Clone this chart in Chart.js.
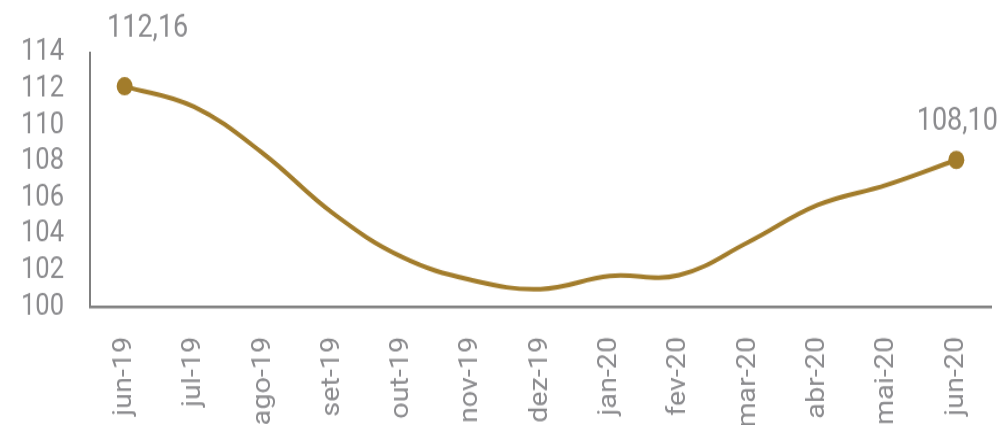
<!DOCTYPE html>
<html>
<head>
<meta charset="utf-8">
<script src="https://cdn.jsdelivr.net/npm/chart.js@4"></script>
<style>
html,body{margin:0;padding:0;background:#fff;overflow:hidden;}
#c{display:block;width:1001px;height:425px;}
</style>
</head>
<body>
<canvas id="c" width="1001" height="370" style="width:1001px;height:425px"></canvas>
<script>
const categories = ["jun-19","jul-19","ago-19","set-19","out-19","nov-19","dez-19","jan-20","fev-20","mar-20","abr-20","mai-20","jun-20"];
const values = [112.16, 111.03, 108.45, 105.18, 102.76, 101.49, 100.99, 101.71, 101.76, 103.58, 105.62, 106.73, 108.10];
const yTicks = [100, 102, 104, 106, 108, 110, 112, 114];
const labelledIdx = [0, 12];
const labelShift = [[23, 43], [1, 26]];

const gold = '#a27c2b';
const grey = '#8b8b8e';

const endLabels = {
  id: 'endLabels',
  afterDatasetsDraw(chart) {
    const ctx = chart.ctx;
    const meta = chart.getDatasetMeta(0);
    ctx.save();
    ctx.font = '27px Roboto';
    ctx.fillStyle = grey;
    ctx.textAlign = 'center';
    ctx.textBaseline = 'alphabetic';
    labelledIdx.forEach((i, k) => {
      const p = meta.data[i];
      const txt = values[i].toFixed(2).replace('.', ',');
      ctx.fillText(txt, p.x + labelShift[k][0], p.y - labelShift[k][1]);
    });
    ctx.restore();
  }
};

new Chart(document.getElementById('c'), {
  type: 'line',
  data: {
    labels: categories,
    datasets: [{
      data: values,
      borderColor: gold,
      backgroundColor: gold,
      borderWidth: 4,
      tension: 0.4,
      pointRadius: values.map((v, i) => labelledIdx.includes(i) ? 8 : 0),
      pointHoverRadius: 0,
      pointBackgroundColor: gold,
      pointBorderWidth: 0
    }]
  },
  options: {
    responsive: false,
    animation: false,
    layout: { padding: { left: 0, right: 10, top: 46, bottom: 0 } },
    plugins: { legend: { display: false }, tooltip: { enabled: false } },
    scales: {
      x: {
        offset: true,
        grid: { display: false, drawTicks: false },
        border: { display: true, color: '#808080', width: 2.5 },
        ticks: {
          color: grey,
          font: { family: 'Roboto', size: 25 },
          maxRotation: 90, minRotation: 90,
          padding: 26,
          autoSkip: false
        },
        afterFit(s) { s.height = 102.7; s.paddingLeft = 0; s.paddingRight = 0; }
      },
      y: {
        min: 100, max: 114,
        grid: { display: false, drawTicks: false },
        border: { display: true, color: '#808080', width: 2 },
        afterBuildTicks(s) { s.ticks = yTicks.map(v => ({ value: v })); },
        ticks: {
          color: grey,
          font: { family: 'Roboto', size: 25.5, lineHeight: 1 },
          padding: 26,
          autoSkip: false
        },
        afterFit(s) { s.width = 90; s.paddingTop = 0; s.paddingBottom = 0; }
      }
    }
  },
  plugins: [endLabels]
});
</script>
</body>
</html>
